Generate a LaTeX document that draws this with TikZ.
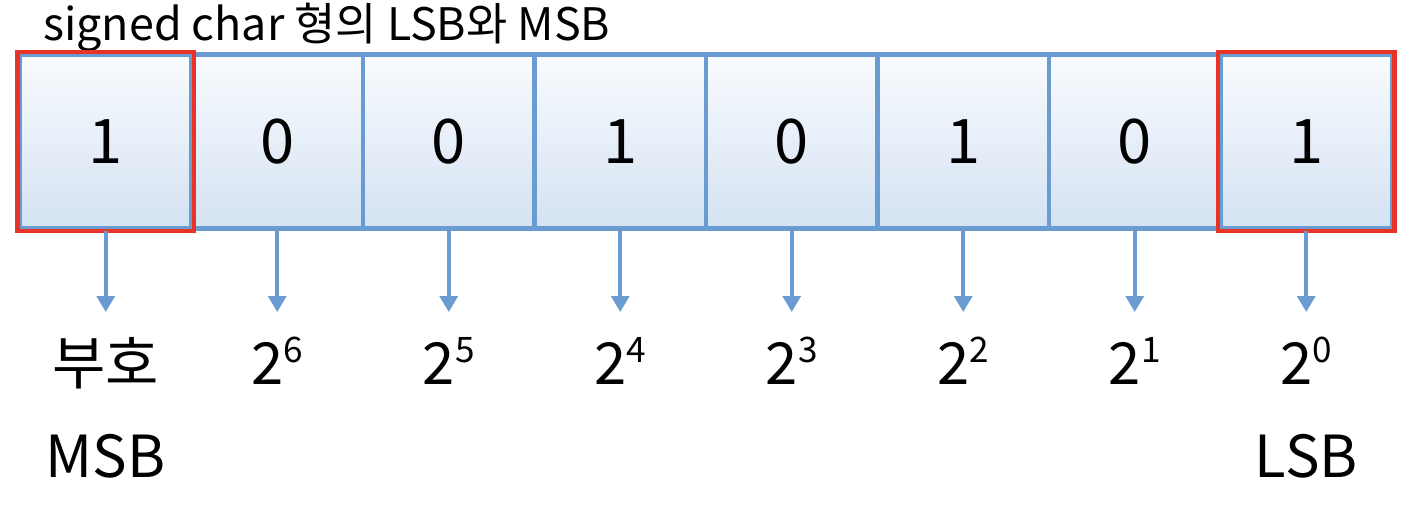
\documentclass[tikz,border=0pt]{standalone}
\usepackage{fontspec}
\setmainfont{Noto Sans CJK KR}
\usetikzlibrary{arrows.meta,positioning}
\definecolor{cellblue}{RGB}{106,155,209}
\definecolor{cellred}{RGB}{232,52,40}
\definecolor{celltop}{RGB}{249,251,254}
\definecolor{cellbot}{RGB}{212,226,242}
\newcommand{\pw}[2]{#1\raisebox{12pt}{\fontsize{20}{20}\selectfont #2}}

\begin{document}
\begin{tikzpicture}[x=0.02cm, y=-0.02cm,
  cell/.style={rectangle, draw=cellblue, line width=2.8pt, top color=celltop, bottom color=cellbot,
    minimum width=3.43cm, minimum height=3.48cm, inner sep=0pt, font=\fontsize{35}{40}\selectfont},
  signbox/.style={draw=cellred, line width=2.6pt},
  bitarrow/.style={-{Triangle[width=10pt,length=9pt]}, cellblue, line width=2.2pt},
  weight/.style={anchor=base, font=\fontsize{33}{36}\selectfont}]
\useasboundingbox (0,0) rectangle (1420,508);
\node[anchor=base west, inner sep=0pt, font=\fontsize{25.5}{30}\selectfont] (title) at (43,40) {signed char 형의 LSB와 MSB};
% the eight bits
\foreach \b [count=\i] in {1,0,0,1,0,1,0,1}
  \node[cell] (bit\i) at ({20+171.5*(\i-0.5)},141.5) {\b};
\draw[signbox] (bit1.north west) rectangle (bit1.south east);
\draw[signbox] (bit8.north west) rectangle (bit8.south east);
% weights below each bit
\foreach \i in {1,...,8}
  \coordinate (tip\i) at ({20+171.5*(\i-0.5)},312);
\foreach \i in {1,...,8}
  \draw[bitarrow] (bit\i.south) -- (tip\i);
\node[weight] (sign) at ({20+171.5*0.5},384) {부호};
\foreach \i [evaluate=\i as \e using int(8-\i)] in {2,...,8}
  \node[weight] (w\i) at ({20+171.5*(\i-0.5)},384) {\pw{2}{\e}};
\node[weight] (msb) at ({20+171.5*0.5},477) {MSB};
\node[weight] (lsb) at ({20+171.5*7.5},477) {LSB};
\end{tikzpicture}
\end{document}
